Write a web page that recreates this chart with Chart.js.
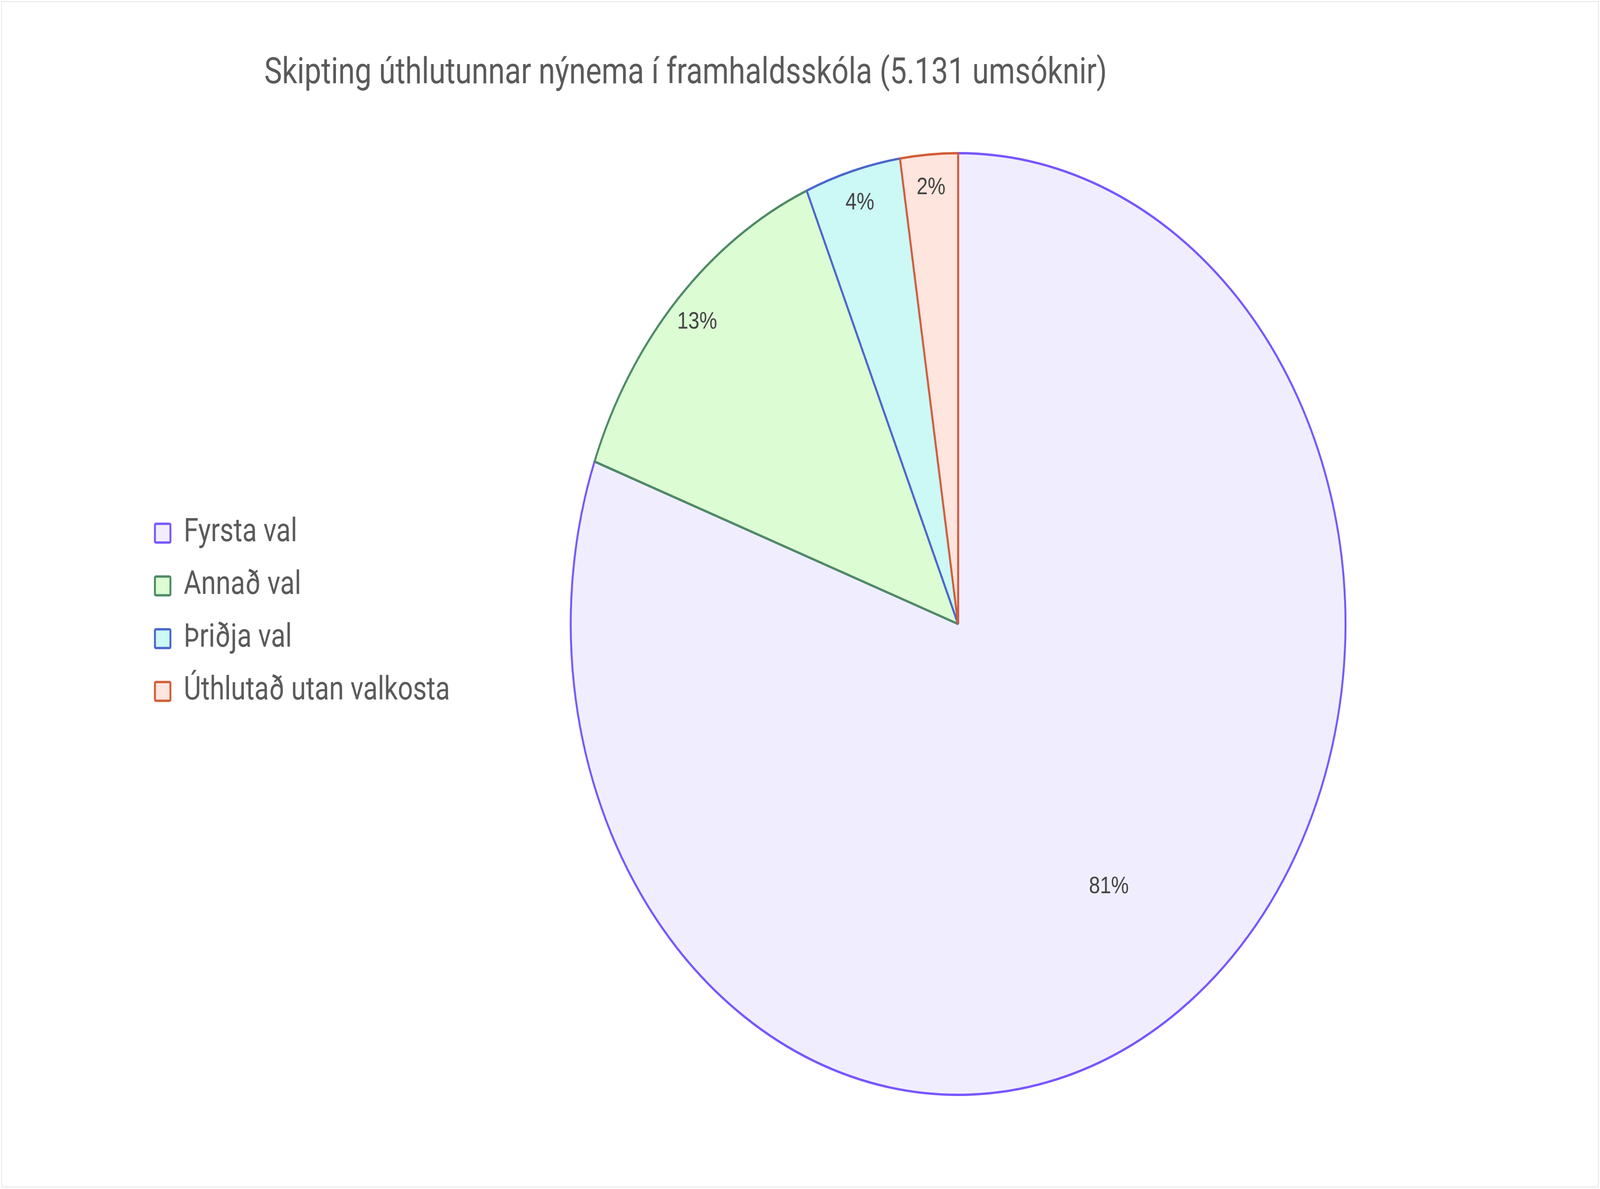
<!DOCTYPE html>
<html lang="is">
<head>
<meta charset="utf-8">
<title>Skipting úthlutunnar nýnema í framhaldsskóla</title>
<script src="https://cdn.jsdelivr.net/npm/chart.js@4.4.1/dist/chart.umd.min.js"></script>
<style>
    html, body { margin: 0; padding: 0; background: #ffffff; overflow: hidden; }
    #allocationChart { display: block; width: 100vw; height: 100vh; }
</style>
</head>
<body>
<canvas id="allocationChart" width="4977" height="3043" style="width:100vw;height:100vh"></canvas>
<script>
// Gögn lesin af myndinni (5.131 umsóknir alls)
const chartTitle = 'Skipting úthlutunnar nýnema í framhaldsskóla (5.131 umsóknir)';
const categories = ['Fyrsta val', 'Annað val', 'Þriðja val', 'Úthlutað utan valkosta'];
const applicants = [4136, 667, 205, 123];

const fillColors = ['#f0eefe', '#dcfcd4', '#ccf8f5', '#fee5de'];
const borderColors = ['#7856ff', '#4d8a66', '#4a67cd', '#d15d38'];

// Ljós rammi utan um myndina
const framePlugin = {
    id: 'frame',
    beforeDraw(chart, args, opts) {
        const ctx = chart.ctx;
        ctx.save();
        ctx.fillStyle = '#ffffff';
        ctx.fillRect(0, 0, chart.width, chart.height);
        ctx.strokeStyle = opts.color;
        ctx.lineWidth = opts.width;
        ctx.strokeRect(5, 4, chart.width - 10, chart.height - 9);
        ctx.restore();
    }
};

// Titill teiknaður vinstra megin við miðju, eins og á fyrirmyndinni
const titlePlugin = {
    id: 'leftTitle',
    afterDraw(chart, args, opts) {
        const ctx = chart.ctx;
        ctx.save();
        ctx.font = opts.font;
        ctx.fillStyle = opts.color;
        ctx.textAlign = 'left';
        ctx.textBaseline = 'alphabetic';
        ctx.fillText(opts.text, opts.x, opts.y);
        ctx.restore();
    }
};

// Prósentumerki inni í sneiðunum
const percentPlugin = {
    id: 'percentLabels',
    afterDatasetsDraw(chart, args, opts) {
        const ctx = chart.ctx;
        const meta = chart.getDatasetMeta(0);
        const total = applicants.reduce((a, b) => a + b, 0);
        ctx.save();
        ctx.font = opts.font;
        ctx.fillStyle = opts.color;
        ctx.textAlign = 'center';
        ctx.textBaseline = 'middle';
        meta.data.forEach((arc, i) => {
            const share = applicants[i] / total;
            const p = arc.getProps(['x', 'y', 'startAngle', 'endAngle', 'outerRadius'], true);
            const mid = (p.startAngle + p.endAngle) / 2;
            const r = p.outerRadius * (share > 0.5 ? opts.bigRatio : opts.smallRatio);
            ctx.fillText(Math.round(share * 100) + '%', p.x + Math.cos(mid) * r, p.y + Math.sin(mid) * r);
        });
        ctx.restore();
    }
};

const ctx = document.getElementById('allocationChart').getContext('2d');

new Chart(ctx, {
    type: 'pie',
    data: {
        labels: categories,
        datasets: [{
            data: applicants,
            backgroundColor: fillColors,
            borderColor: borderColors,
            borderWidth: 6,
            hoverOffset: 0
        }]
    },
    options: {
        responsive: false,
        devicePixelRatio: 1,
        animation: false,
        radius: 1205,
        layout: {
            padding: { left: 430, right: 426, top: 1271, bottom: 1120 }
        },
        plugins: {
            legend: {
                position: 'left',
                align: 'start',
                labels: {
                    boxWidth: 48,
                    boxHeight: 48,
                    padding: 52,
                    color: '#5a5a5a',
                    useBorderRadius: true,
                    borderRadius: 3,
                    font: { family: 'Roboto', size: 83 }
                }
            },
            tooltip: { enabled: false },
            frame: { color: '#e2e2e2', width: 2 },
            leftTitle: {
                text: chartTitle,
                font: '93px Roboto',
                color: '#5a5a5a',
                x: 822,
                y: 213
            },
            percentLabels: {
                font: '62px "Liberation Sans", Arial, sans-serif',
                color: '#444444',
                bigRatio: 0.68,
                smallRatio: 0.93
            }
        }
    },
    plugins: [framePlugin, titlePlugin, percentPlugin]
});
</script>
</body>
</html>
